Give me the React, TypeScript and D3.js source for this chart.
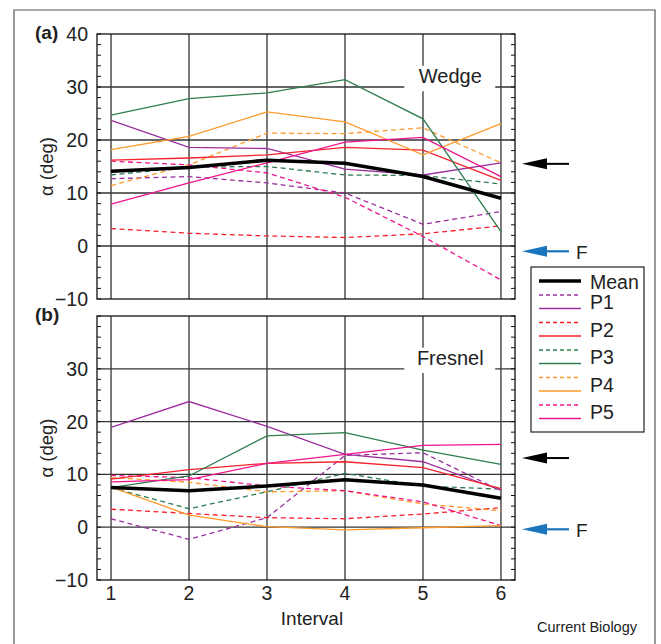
import React from "react";
import * as d3 from "d3";

const intervals = [1, 2, 3, 4, 5, 6];
const yTicksA = [-10, 0, 10, 20, 30, 40];
const yTicksB = [-10, 0, 10, 20, 30];
const gridValues = [0, 10, 20, 30];
const seriesNames = ["P1", "P2", "P3", "P4", "P5"];
const seriesColors = ["#9b2f9e", "#f5222d", "#2f7d4f", "#ff9a2a", "#f0148c"];

// panel (a) wedge
const wedgeMean = [14.1, 14.8, 16.2, 15.6, 13.1, 9.0];
const wedgeDashed = [
  [12.7, 13.1, 11.9, 10.0, 4.1, 6.5],
  [3.3, 2.4, 1.9, 1.6, 2.3, 3.8],
  [13.4, 14.9, 15.0, 13.4, 13.3, 11.7],
  [11.4, 15.3, 21.3, 21.2, 22.3, 15.7],
  [16.0, 15.3, 13.8, 9.2, 1.8, -6.4],
];
const wedgeSolid = [
  [23.7, 18.6, 18.4, 14.5, 13.4, 15.7],
  [16.2, 16.6, 17.2, 18.6, 18.1, 12.4],
  [24.7, 27.8, 28.9, 31.4, 24.0, 2.7],
  [18.2, 20.7, 25.3, 23.4, 17.2, 23.1],
  [7.9, 11.9, 15.7, 19.6, 20.5, 13.1],
];

// panel (b) fresnel
const fresnelMean = [7.5, 6.9, 7.8, 9.0, 8.0, 5.5];
const fresnelDashed = [
  [1.6, -2.3, 1.8, 13.6, 14.1, 6.9],
  [3.4, 2.6, 1.8, 1.6, 2.5, 3.7],
  [7.5, 3.5, 6.7, 10.2, 7.8, 7.2],
  [9.4, 8.5, 6.7, 6.9, 4.4, 3.1],
  [9.8, 9.4, 7.8, 6.9, 4.8, 0.3],
];
const fresnelSolid = [
  [18.9, 23.8, 19.1, 13.8, 12.4, 7.0],
  [9.1, 10.9, 12.1, 12.4, 11.3, 7.3],
  [7.5, 9.7, 17.3, 17.9, 14.6, 11.9],
  [7.6, 2.3, 0.1, -0.5, -0.1, 0.3],
  [8.6, 9.0, 12.1, 13.8, 15.5, 15.7],
];

// arrow markers (mean, F)
const meanArrow = [15.5, 13.1];
const fArrow = [-1, -0.4];

const font = "'Liberation Sans', Arial, sans-serif";

const Panel = ({ top, bottom, label, title, mean, dashed, solid, ticks, arrowMean, arrowF, showX }) => {
  const x = d3.scaleLinear().domain([0.82, 6.18]).range([97, 515]);
  const y = d3.scaleLinear().domain([-10, 40]).range([bottom, top]);
  const line = d3
    .line<number>()
    .x((_, i) => x(intervals[i]))
    .y((d) => y(d));
  const minor = d3.range(-10, 41, 2);
  const [x0, x1] = x.range();
  const titleX = x(5.35);
  return (
    <g>
      {/* gridlines */}
      {gridValues.map((v) => (
        <line key={"h" + v} x1={x0} x2={x1} y1={y(v)} y2={y(v)} stroke="#333" strokeWidth={1.3} />
      ))}
      {intervals.map((v) => (
        <line key={"v" + v} x1={x(v)} x2={x(v)} y1={top} y2={bottom} stroke="#333" strokeWidth={1.3} />
      ))}
      <rect x={titleX - 46} y={y(34)} width={91} height={y(29.2) - y(34)} fill="#fff" />
      <text x={titleX} y={y(30.8)} fontSize={20} textAnchor="middle" fontFamily={font} fill="#222">
        {title}
      </text>
      {/* frame + minor ticks */}
      <rect x={x0} y={top} width={x1 - x0} height={bottom - top} fill="none" stroke="#111" strokeWidth={1.3} />
      {minor.map((v) => (
        <g key={"t" + v}>
          <line x1={x0} x2={x0 + 4} y1={y(v)} y2={y(v)} stroke="#111" />
          <line x1={x1 - 4} x2={x1} y1={y(v)} y2={y(v)} stroke="#111" />
        </g>
      ))}
      {/* series */}
      {dashed.map((d, i) => (
        <path key={"d" + i} d={line(d)} fill="none" stroke={seriesColors[i]} strokeWidth={1.3} strokeDasharray="5,3.5" />
      ))}
      {solid.map((d, i) => (
        <path key={"s" + i} d={line(d)} fill="none" stroke={seriesColors[i]} strokeWidth={1.3} />
      ))}
      <path d={line(mean)} fill="none" stroke="#000" strokeWidth={3.5} />
      {/* y labels */}
      {ticks.map((v) => (
        <text key={"yl" + v} x={88} y={y(v)} dy="0.36em" fontSize={19.5} textAnchor="end" fontFamily={font} fill="#222">
          {v < 0 ? "\u2212" + Math.abs(v) : v}
        </text>
      ))}
      <text
        transform={`translate(53,${(top + bottom) / 2}) rotate(-90)`}
        fontSize={18.5}
        textAnchor="middle"
        fontFamily={font}
        fill="#222"
      >
        α (deg)
      </text>
      <text x={35} y={top + 5} fontSize={19} fontWeight="bold" fontFamily={font} fill="#222">
        {label}
      </text>
      {/* arrows */}
      <g>
        <line x1={545} x2={569} y1={y(arrowMean)} y2={y(arrowMean)} stroke="#000" strokeWidth={2} />
        <path d={`M522,${y(arrowMean)}L547,${y(arrowMean) - 5.5}L547,${y(arrowMean) + 5.5}Z`} fill="#000" />
        <line x1={545} x2={569} y1={y(arrowF)} y2={y(arrowF)} stroke="#1b75bc" strokeWidth={2.2} />
        <path d={`M522,${y(arrowF)}L547,${y(arrowF) - 5.5}L547,${y(arrowF) + 5.5}Z`} fill="#1b75bc" />
        <text x={576} y={y(arrowF)} dy="0.4em" fontSize={19} fontFamily={font} fill="#222">
          F
        </text>
      </g>
      {showX &&
        intervals.map((v) => (
          <text key={"xl" + v} x={x(v)} y={bottom + 20} fontSize={19.5} textAnchor="middle" fontFamily={font} fill="#222">
            {v}
          </text>
        ))}
    </g>
  );
};

const Legend = () => {
  const rows: { name: string; color: string; dash?: string; w: number; y: number }[] = [
    { name: "Mean", color: "#000", w: 3.5, y: 281 },
  ];
  seriesNames.forEach((n, i) => {
    rows.push({ name: "", color: seriesColors[i], dash: "4,3", w: 1.3, y: 295 + i * 27.5 });
    rows.push({ name: n, color: seriesColors[i], w: 1.3, y: 308.5 + i * 27.5 });
  });
  return (
    <g>
      <rect x={531} y={267} width={113} height={165} fill="#fff" stroke="#222" strokeWidth={1.2} />
      {rows.map((r, i) => (
        <g key={i}>
          <line x1={539} x2={581} y1={r.y} y2={r.y} stroke={r.color} strokeWidth={r.w} strokeDasharray={r.dash} />
          {r.name && (
            <text
              x={590}
              y={r.name === "Mean" ? r.y + 1 : r.y - 6.5}
              dy="0.36em"
              fontSize={19.5}
              fontFamily={font}
              fill="#222"
            >
              {r.name}
            </text>
          )}
        </g>
      ))}
    </g>
  );
};

export default function App() {
  return (
    <svg width={661} height={644} style={{ position: "absolute", left: 0, top: 0, background: "#fff" }}>
      <rect width={661} height={644} fill="#fff" />
      <path d="M14,644V10H655V644" fill="none" stroke="#555" strokeWidth={1.2} />
      <Panel
        top={34}
        bottom={299}
        label="(a)"
        title="Wedge"
        mean={wedgeMean}
        dashed={wedgeDashed}
        solid={wedgeSolid}
        ticks={yTicksA}
        arrowMean={meanArrow[0]}
        arrowF={fArrow[0]}
        showX={false}
      />
      <Panel
        top={316}
        bottom={580}
        label="(b)"
        title="Fresnel"
        mean={fresnelMean}
        dashed={fresnelDashed}
        solid={fresnelSolid}
        ticks={yTicksB}
        arrowMean={meanArrow[1]}
        arrowF={fArrow[1]}
        showX={true}
      />
      <Legend />
      <text x={312} y={625} fontSize={19} textAnchor="middle" fontFamily={font} fill="#222">
        Interval
      </text>
      <text x={637} y={632} fontSize={14.5} textAnchor="end" fontFamily={font} fill="#222">
        Current Biology
      </text>
    </svg>
  );
}
